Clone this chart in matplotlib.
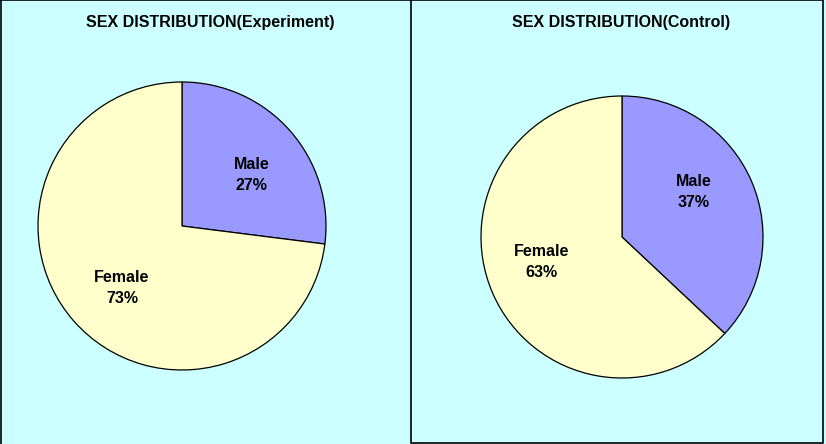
import matplotlib
matplotlib.use("Agg")
import matplotlib.pyplot as plt
import numpy as np
from matplotlib.patches import Rectangle
from matplotlib.lines import Line2D

plt.rcParams['font.family'] = ['Liberation Sans', 'DejaVu Sans']

categories = ["Male", "Female"]
experiment_pct = [27, 73]
control_pct = [37, 63]
titles = ["SEX DISTRIBUTION(Experiment)", "SEX DISTRIBUTION(Control)"]

colors = ["#9999FF", "#FFFFCC"]
bg = "#CCFFFF"

W, H = 826, 444
fig = plt.figure(figsize=(W / 100, H / 100), dpi=100)
fig.patch.set_facecolor(bg)


def px_axes(x0, y0, x1, y1):
    # pixel box (top-left origin) -> figure axes
    return fig.add_axes([x0 / W, 1 - y1 / H, (x1 - x0) / W, (y1 - y0) / H])


def draw_pie(box, values, label_angles):
    ax = px_axes(*box)
    ax.pie(values, colors=colors, startangle=90, counterclock=False,
           wedgeprops=dict(edgecolor="black", linewidth=0.9))
    ax.set_aspect("equal")
    ax.set_xlim(-1.0, 1.0)
    ax.set_ylim(-1.0, 1.0)
    ax.axis("off")
    for cat, v, ang in zip(categories, values, label_angles):
        a = np.deg2rad(ang)
        ax.text(0.6 * np.cos(a), 0.6 * np.sin(a), f"{cat}\n{v}%", ha="center", va="center",
                fontsize=11.5, fontweight="bold", linespacing=1.5)
    return ax


draw_pie((38, 82, 326, 370), experiment_pct, [36, 226])
draw_pie((481, 96, 763, 378), control_pct, [32, 197])

fig.text(210 / W, 1 - 23 / H, titles[0], ha="center", va="center", fontsize=11.5, fontweight="bold")
fig.text(621 / W, 1 - 23 / H, titles[1], ha="center", va="center", fontsize=11.5, fontweight="bold")

# panel borders
fig.add_artist(Rectangle((411 / W, 1 - 443 / H), (823 - 411) / W, 443 / H, transform=fig.transFigure,
                         fill=False, edgecolor="black", linewidth=1.2))
fig.add_artist(Line2D([0.5 / W, 0.5 / W], [0, 1], transform=fig.transFigure, color="black", linewidth=1.2))
fig.add_artist(Line2D([0, 411 / W], [1 - 0.5 / H, 1 - 0.5 / H], transform=fig.transFigure, color="black", linewidth=1.2))

fig.savefig("out.png", dpi=100, facecolor=bg)
